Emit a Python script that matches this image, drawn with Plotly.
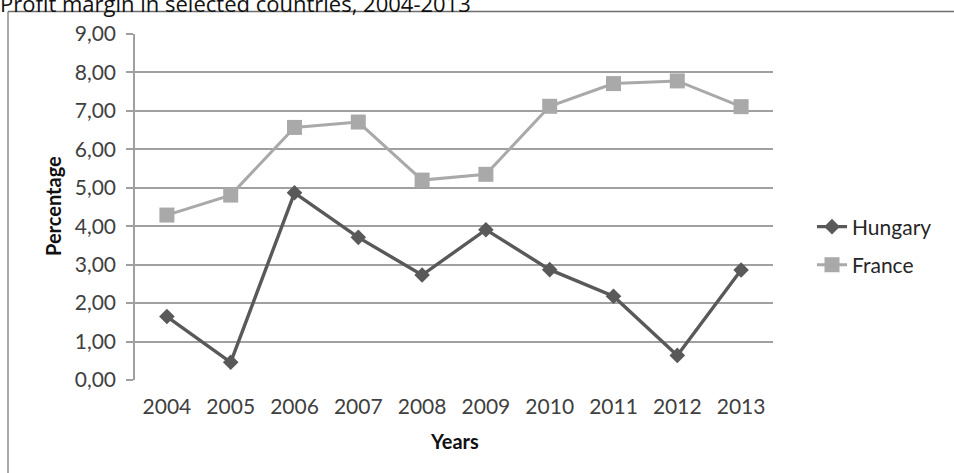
import plotly.graph_objects as go

# Profit margin (%) by year
years = ["2004", "2005", "2006", "2007", "2008", "2009", "2010", "2011", "2012", "2013"]
hungary = [1.65, 0.46, 4.87, 3.71, 2.73, 3.91, 2.87, 2.18, 0.64, 2.86]
france = [4.29, 4.81, 6.57, 6.71, 5.20, 5.35, 7.12, 7.71, 7.78, 7.11]

title_text = "Profit margin in selected countries, 2004-2013"
y_title = "Percentage"
x_title = "Years"

font_family = "Lato, Open Sans, sans-serif"
label_color = "#404040"
grid_color = "#a0a0a0"

fig = go.Figure()
fig.add_trace(go.Scatter(
    x=years, y=hungary, name="Hungary", mode="lines+markers",
    line=dict(color="#595959", width=3.4),
    marker=dict(symbol="diamond", size=12, color="#595959"),
    legend="legend", showlegend=True,
))
fig.add_trace(go.Scatter(
    x=years, y=france, name="France", mode="lines+markers",
    line=dict(color="#a9a9a9", width=3),
    marker=dict(symbol="square", size=15, color="#a9a9a9"),
    legend="legend2", showlegend=True,
))

W, H = 954, 473
L, R, T, B = 135, 181, 34, 93
pw, ph = W - L - R, H - T - B

def px_x(x):
    return (x - L) / pw

def px_y(y):
    return (H - B - y) / ph

legend_common = dict(
    xanchor="left", yanchor="middle", bgcolor="rgba(0,0,0,0)",
    font=dict(family=font_family, size=21, color="#262626"),
    itemwidth=30, visible=True,
)

fig.update_layout(
    width=W, height=H,
    margin=dict(l=L, r=R, t=T, b=B),
    paper_bgcolor="white", plot_bgcolor="white",
    separators=",.",
    showlegend=True,
    font=dict(family=font_family, size=21, color=label_color),
    legend=dict(x=px_x(812), y=px_y(227), **legend_common),
    legend2=dict(x=px_x(812), y=px_y(265), **legend_common),
    xaxis=dict(
        type="category", showgrid=False, zeroline=False,
        showline=False, ticks="", ticklabelstandoff=12,
        tickfont=dict(family=font_family, size=21, color=label_color),
        range=[-0.5, len(years) - 0.5], fixedrange=True,
    ),
    yaxis=dict(
        range=[0, 9], dtick=1, tickformat=".2f",
        showgrid=True, gridcolor=grid_color, gridwidth=1.5,
        showline=True, linecolor=grid_color, linewidth=1.5,
        ticks="outside", ticklen=7, tickcolor=grid_color, tickwidth=1.5,
        ticklabelstandoff=6, zeroline=False,
        tickfont=dict(family=font_family, size=21, color=label_color),
        fixedrange=True,
    ),
    shapes=[
        # chart-area frame
        dict(type="line", xref="paper", yref="paper",
             x0=px_x(8), x1=px_x(8), y0=px_y(11.5), y1=px_y(480),
             line=dict(color="#8c8c8c", width=1.5)),
        dict(type="line", xref="paper", yref="paper",
             x0=px_x(8), x1=px_x(960), y0=px_y(11.5), y1=px_y(11.5),
             line=dict(color="#6e6e6e", width=1.5)),
    ],
    annotations=[
        dict(text=title_text, xref="paper", yref="paper",
             x=px_x(-2), y=px_y(20), xanchor="left", yanchor="bottom",
             showarrow=False,
             font=dict(family="Open Sans, sans-serif", size=22, color="#111111")),
        dict(text="<b>" + y_title + "</b>", xref="paper", yref="paper",
             x=px_x(53), y=px_y(206), xanchor="center", yanchor="middle",
             textangle=-90, showarrow=False,
             font=dict(family=font_family, size=20, color="#111111")),
        dict(text="<b>" + x_title + "</b>", xref="paper", yref="paper",
             x=px_x(455), y=px_y(441), xanchor="center", yanchor="middle",
             showarrow=False,
             font=dict(family=font_family, size=20, color="#111111")),
    ],
)

fig.write_html("out.html")
